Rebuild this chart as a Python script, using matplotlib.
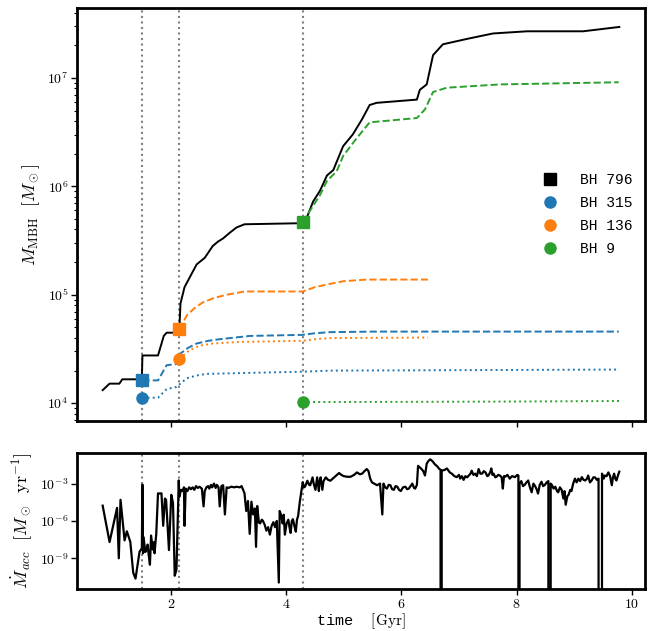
import numpy as np
import matplotlib
matplotlib.use("Agg")
import matplotlib.pyplot as plt
from matplotlib.lines import Line2D
from matplotlib.ticker import FuncFormatter, NullFormatter, NullLocator, FixedLocator

plt.rcParams["font.family"] = ["Liberation Mono", "DejaVu Sans Mono"]
plt.rcParams["mathtext.fontset"] = "cm"

BLUE, ORANGE, GREEN = "#1f77b4", "#ff7f0e", "#2ca02c"

# merger events: time [Gyr], log10 mass of primary (square) and secondary (circle)
merger_t = [1.51, 2.15, 4.29]
merger_prim = [4.21, 4.68, 5.67]
merger_sec = [4.05, 4.41, 4.01]
merger_colors = [BLUE, ORANGE, GREEN]

# BH 796 (main branch), log10 M
bh796_t = [0.82, 0.94, 1.11, 1.16, 1.50, 1.51, 1.78, 1.88, 1.93, 2.14, 2.15, 2.17,
           2.24, 2.33, 2.45, 2.59, 2.73, 2.82, 2.91, 3.02, 3.14, 3.28, 4.27, 4.29,
           4.36, 4.47, 4.59, 4.71, 4.82, 4.99, 5.16, 5.32, 5.45, 5.57, 6.27, 6.32,
           6.44, 6.55, 6.72, 7.14, 7.59, 8.18, 9.15, 9.78]
bh796_m = [4.12, 4.18, 4.18, 4.22, 4.22, 4.44, 4.44, 4.62, 4.65, 4.65, 4.68, 4.92,
           5.07, 5.16, 5.28, 5.34, 5.45, 5.49, 5.52, 5.57, 5.62, 5.65, 5.66, 5.67,
           5.71, 5.86, 5.96, 6.10, 6.15, 6.37, 6.48, 6.62, 6.75, 6.77, 6.80, 6.89,
           6.94, 7.21, 7.31, 7.36, 7.41, 7.43, 7.43, 7.47]

# BH 315
bh315_dash_t = [1.51, 1.78, 1.93, 2.10, 2.15, 2.30, 2.45, 2.65, 2.85, 3.37, 4.29, 4.50, 4.76, 5.50, 9.77]
bh315_dash_m = [4.21, 4.21, 4.35, 4.36, 4.45, 4.51, 4.55, 4.575, 4.59, 4.62, 4.63, 4.645, 4.655, 4.66, 4.66]
bh315_dot_t = [1.51, 1.78, 1.93, 2.10, 2.28, 2.45, 2.62, 3.42, 4.29, 4.76, 9.78]
bh315_dot_m = [4.05, 4.05, 4.13, 4.15, 4.23, 4.255, 4.27, 4.28, 4.29, 4.30, 4.31]

# BH 136
bh136_dash_t = [2.15, 2.28, 2.42, 2.56, 2.75, 2.97, 3.28, 4.29, 4.50, 4.76, 5.00, 5.40, 6.46]
bh136_dash_m = [4.68, 4.81, 4.88, 4.93, 4.97, 5.00, 5.03, 5.03, 5.07, 5.10, 5.125, 5.14, 5.14]
bh136_dot_t = [2.15, 2.33, 2.50, 2.73, 3.20, 4.29, 4.50, 4.76, 6.46]
bh136_dot_m = [4.41, 4.49, 4.53, 4.55, 4.565, 4.575, 4.59, 4.60, 4.605]

# BH 9
bh9_dash_t = [4.29, 4.41, 4.59, 4.71, 4.88, 4.99, 5.22, 5.45, 6.27, 6.41, 6.55, 6.79, 7.71, 9.77]
bh9_dash_m = [5.67, 5.77, 5.92, 6.05, 6.14, 6.28, 6.44, 6.59, 6.63, 6.71, 6.87, 6.91, 6.94, 6.96]
bh9_dot_t = [4.29, 6.00, 8.00, 9.78]
bh9_dot_m = [4.01, 4.012, 4.015, 4.02]

# accretion rate, log10 [Msun/yr]; -inf = no accretion
acc_t = [0.82, 0.94, 1.07, 1.10, 1.13, 1.20, 1.24, 1.30, 1.35, 1.39, 1.46, 1.50, 1.51, 1.52,
         1.53, 1.56, 1.58, 1.60, 1.62, 1.64, 1.66, 1.69, 1.71, 1.72, 1.75, 1.78, 1.81, 1.84,
         1.87, 1.90, 1.92, 1.97, 2.01, 2.04, 2.07, 2.10, 2.14, 2.15, 2.18, 2.21, 2.23, 2.24,
         2.26, 2.29, 2.32, 2.35, 2.38, 2.41, 2.44, 2.47, 2.50, 2.54, 2.57, 2.59, 2.62, 2.65,
         2.67, 2.70, 2.72, 2.75, 2.78, 2.80, 2.83, 2.85, 2.88, 2.91, 2.94, 2.97, 3.00, 3.05,
         3.10, 3.14, 3.20, 3.23, 3.28, 3.31, 3.34, 3.37, 3.40, 3.43, 3.46, 3.48, 3.50, 3.53,
         3.55, 3.58, 3.60, 3.63, 3.66, 3.69, 3.72, 3.75, 3.78, 3.81, 3.84, 3.875, 3.89, 3.92,
         3.94, 3.96, 3.98, 4.01, 4.04, 4.06, 4.08, 4.10, 4.12, 4.15, 4.17, 4.19, 4.21, 4.24,
         4.29, 4.31, 4.33, 4.35, 4.37, 4.40, 4.42, 4.44, 4.46, 4.48, 4.51, 4.53, 4.54, 4.57,
         4.58, 4.60, 4.63, 4.65, 4.69, 4.73, 4.77, 4.81, 4.86, 4.92, 4.96, 5.00, 5.06, 5.12,
         5.18, 5.23, 5.28, 5.32, 5.36, 5.40, 5.43, 5.46, 5.49, 5.53, 5.58, 5.63, 5.67, 5.69,
         5.72, 5.75, 5.78, 5.81, 5.84, 5.87, 5.90, 5.93, 5.96, 5.99, 6.03, 6.07, 6.10, 6.13,
         6.16, 6.19, 6.22, 6.24, 6.27, 6.29, 6.32, 6.35, 6.38, 6.41, 6.44, 6.47, 6.50, 6.54,
         6.58, 6.62, 6.66, 6.68, 6.69, 6.70, 6.75, 6.79, 6.84, 6.88, 6.92, 6.96, 7.00, 7.02,
         7.05, 7.08, 7.11, 7.14, 7.17, 7.20, 7.22, 7.25, 7.28, 7.31, 7.34, 7.37, 7.40, 7.43,
         7.46, 7.49, 7.51, 7.54, 7.56, 7.58, 7.60, 7.63, 7.65, 7.68, 7.71, 7.74, 7.76, 7.78,
         7.80, 7.84, 7.88, 7.92, 7.97, 8.01, 8.03, 8.04, 8.05, 8.08, 8.11, 8.14, 8.17, 8.20,
         8.23, 8.26, 8.29, 8.32, 8.35, 8.37, 8.40, 8.43, 8.46, 8.49, 8.52, 8.55, 8.57, 8.59,
         8.61, 8.64, 8.67, 8.70, 8.72, 8.75, 8.78, 8.81, 8.83, 8.85, 8.88, 8.90, 8.93, 8.95,
         8.98, 9.01, 9.04, 9.07, 9.10, 9.13, 9.16, 9.19, 9.22, 9.24, 9.27, 9.30, 9.33, 9.36,
         9.39, 9.42, 9.45, 9.48, 9.51, 9.53, 9.56, 9.59, 9.62, 9.65, 9.67, 9.69, 9.71, 9.73,
         9.76, 9.78]
acc_log = [-4.77, -7.69, -4.95, -9.0, -4.3, -7.56, -6.83, -7.69, -10.16, -10.63, -8.47, -8.2, -3.08, -8.6,
           -7.3, -8.5, -8.34, -7.9, -8.8, -9.52, -7.17, -8.3, -7.7, -8.6, -7.0, -3.78, -3.8, -3.78,
           -6.39, -4.2, -4.3, -8.34, -3.9, -4.56, -10.4, -9.9, -2.74, -4.05, -3.5, -3.6, -3.3, -6.39,
           -3.4, -3.6, -3.3, -3.45, -3.3, -3.5, -3.2, -3.35, -3.25, -3.4, -4.83, -3.6, -3.3, -3.2,
           -3.4, -3.1, -3.3, -3.0, -3.35, -3.1, -3.3, -4.83, -3.2, -3.13, -5.48, -3.3, -3.35, -3.25,
           -3.3, -3.25, -3.3, -3.2, -3.78, -5.2, -4.4, -7.04, -4.45, -5.48, -5.0, -8.08, -4.8, -6.13,
           -6.2, -5.9, -6.0, -6.3, -6.78, -6.5, -7.1, -6.4, -6.1, -6.5, -6.0, -10.95, -5.2, -5.6,
           -6.2, -5.5, -7.1, -6.2, -5.9, -6.5, -6.96, -6.0, -5.86, -6.5, -6.86, -5.9, -5.6, -4.43,
           -2.88, -3.3, -3.25, -3.0, -2.77, -3.1, -3.13, -2.8, -2.5, -3.0, -3.5, -2.8, -2.5, -3.6,
           -2.9, -2.5, -3.5, -2.8, -2.5, -2.7, -2.77, -2.6, -2.4, -2.15, -2.3, -2.4, -2.45, -2.45,
           -2.3, -2.1, -2.25, -2.2, -2.0, -1.83, -2.0, -2.6, -2.9, -3.0, -3.13, -3.0, -5.48, -3.0,
           -3.3, -3.4, -3.1, -3.13, -3.45, -3.5, -3.2, -3.25, -3.5, -3.6, -3.3, -3.25, -3.45, -3.4,
           -3.2, -3.0, -3.35, -3.4, -3.1, -1.57, -1.7, -1.83, -2.0, -2.35, -1.4, -1.18, -1.05, -1.2,
           -1.44, -1.6, -1.83, -1.88, -np.inf, -1.96, -1.9, -1.78, -2.1, -2.22, -2.4, -2.48, -2.3, -2.6,
           -2.4, -2.7, -2.4, -2.5, -2.35, -2.2, -1.96, -2.3, -2.2, -2.4, -1.83, -2.2, -2.2, -2.0,
           -2.1, -2.4, -2.35, -2.1, -1.78, -2.3, -2.2, -2.5, -2.45, -2.3, -2.35, -2.5, -3.4, -2.4,
           -2.45, -2.3, -2.6, -2.4, -2.48, -2.3, -2.35, -np.inf, -3.0, -2.8, -3.2, -3.1, -2.9, -2.75,
           -3.3, -3.7, -3.0, -3.2, -3.5, -3.8, -3.1, -2.85, -3.2, -3.1, -2.9, -2.8, -np.inf, -3.0,
           -3.1, -3.4, -3.25, -3.6, -3.7, -3.3, -3.5, -4.2, -3.6, -4.7, -4.0, -3.9, -3.5, -3.6,
           -3.0, -2.6, -2.9, -2.6, -2.8, -2.48, -2.7, -2.75, -2.6, -2.35, -2.9, -2.75, -2.5, -2.5,
           -2.7, -2.6, -np.inf, -2.2, -2.6, -2.35, -2.4, -2.1, -2.4, -3.13, -2.5, -2.2, -2.6, -2.75,
           -2.3, -2.04]


def m(x):
    return 10 ** np.asarray(x, dtype=float)


fig = plt.figure(figsize=(6.51, 6.31), dpi=100)
gs = fig.add_gridspec(2, 1, height_ratios=[414, 136], left=0.118, right=0.991,
                      top=0.987, bottom=0.067, hspace=0.118)
ax = fig.add_subplot(gs[0])
ax2 = fig.add_subplot(gs[1], sharex=ax)

lw = 1.4
ax.plot(bh796_t, m(bh796_m), color="k", lw=lw)
ax.plot(bh315_dash_t, m(bh315_dash_m), color=BLUE, ls="--", lw=lw)
ax.plot(bh315_dot_t, m(bh315_dot_m), color=BLUE, ls=":", lw=lw)
ax.plot(bh136_dash_t, m(bh136_dash_m), color=ORANGE, ls="--", lw=lw)
ax.plot(bh136_dot_t, m(bh136_dot_m), color=ORANGE, ls=":", lw=lw)
ax.plot(bh9_dash_t, m(bh9_dash_m), color=GREEN, ls="--", lw=lw)
ax.plot(bh9_dot_t, m(bh9_dot_m), color=GREEN, ls=":", lw=lw)

for t, mp, ms, c in zip(merger_t, merger_prim, merger_sec, merger_colors):
    ax.plot([t], m([mp]), marker="s", ms=8.5, color=c, ls="none", zorder=5)
    ax.plot([t], m([ms]), marker="o", ms=8, color=c, ls="none", zorder=5)
    for a in (ax, ax2):
        a.axvline(t, color="gray", ls=":", lw=1.5, zorder=0)

ax2.plot(acc_t, m(acc_log), color="k", lw=1.6)

ax.set_yscale("log")
ax2.set_yscale("log")

logfmt = FuncFormatter(lambda v, p: r"$10^{%d}$" % round(np.log10(v)))
ax.yaxis.set_major_formatter(logfmt)
ax.yaxis.set_minor_formatter(NullFormatter())
ax2.yaxis.set_major_locator(FixedLocator([1e-9, 1e-6, 1e-3]))
ax2.yaxis.set_major_formatter(logfmt)
ax2.yaxis.set_minor_locator(NullLocator())
ax2.xaxis.set_major_formatter(FuncFormatter(lambda v, p: r"$%d$" % v))
plt.setp(ax.get_xticklabels(), visible=False)

for a in (ax, ax2):
    for s in a.spines.values():
        s.set_linewidth(2)
    a.tick_params(which="major", direction="out", length=4, width=1, labelsize=10, pad=2)
    a.tick_params(which="minor", direction="out", length=2, width=0.8)

ax.set_ylabel(r"$M_{\rm MBH}\ \ [M_\odot]$", fontsize=13)
ax2.set_ylabel(r"$\dot M_{acc}\ \ [M_\odot\ \ {\rm yr}^{-1}]$", fontsize=13)
ax2.set_xlabel(r"time  $[\rm Gyr]$", fontsize=11, labelpad=0)

handles = [
    Line2D([], [], marker="s", color="k", ls="none", ms=8),
    Line2D([], [], marker="o", color=BLUE, ls="none", ms=8),
    Line2D([], [], marker="o", color=ORANGE, ls="none", ms=8),
    Line2D([], [], marker="o", color=GREEN, ls="none", ms=8),
]
ax.legend(handles, ["BH 796", "BH 315", "BH 136", "BH 9"], loc="center right",
          frameon=False, fontsize=10.5, handletextpad=1.0, labelspacing=0.6)

fig.savefig("out.png", dpi=100)
